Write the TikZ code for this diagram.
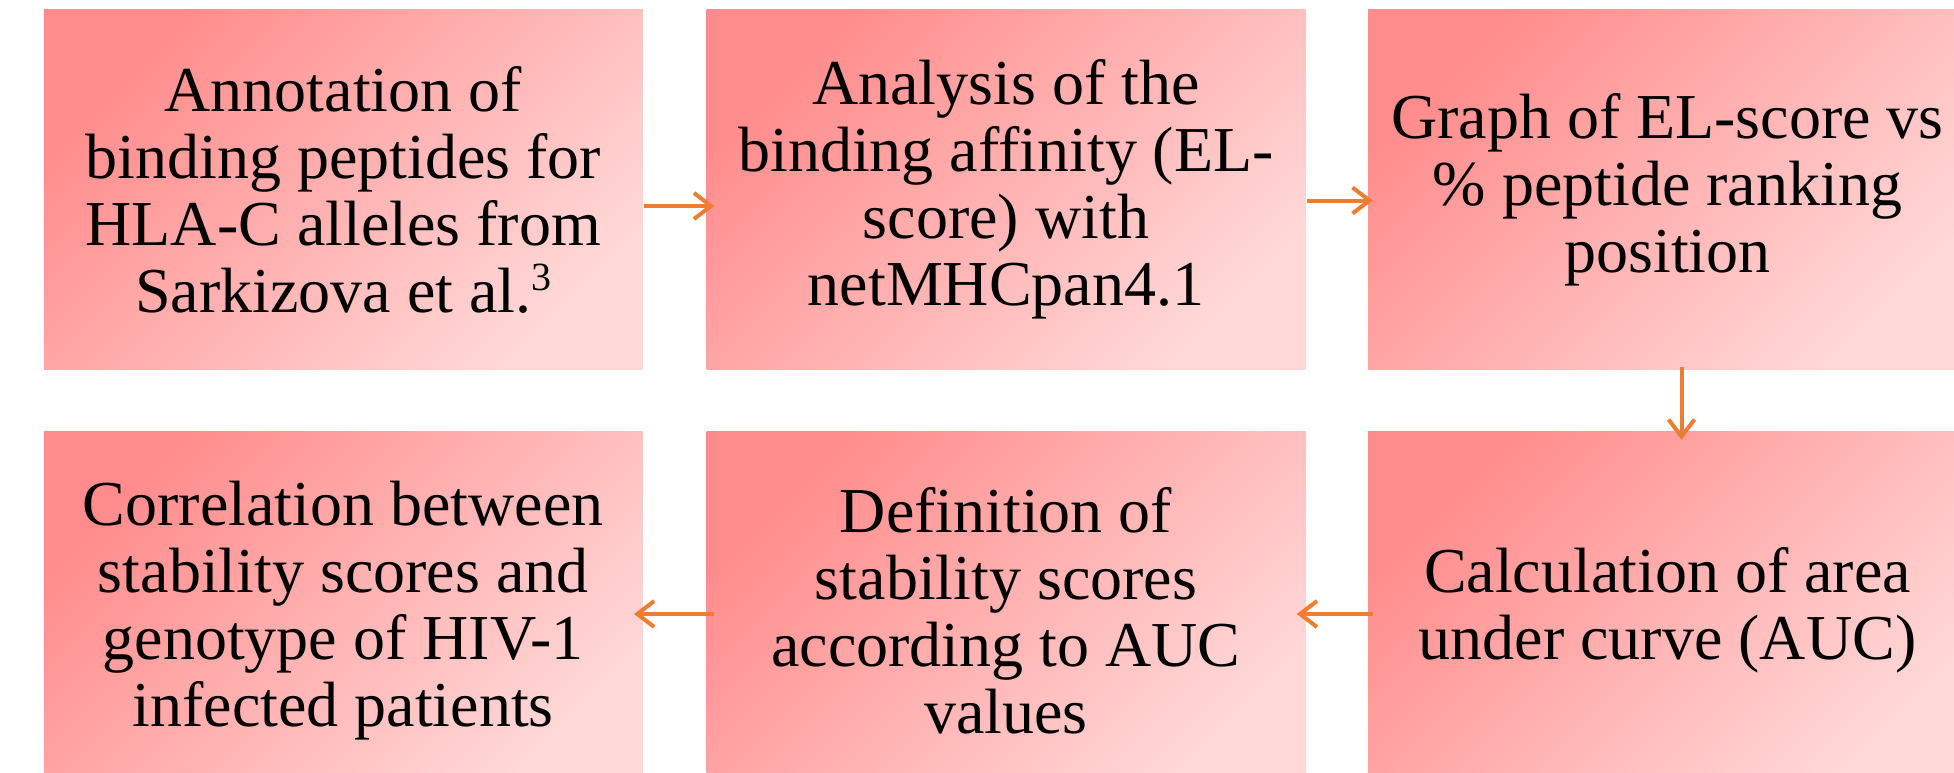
\documentclass[tikz,border=0pt]{standalone}
\usepackage{fontspec}
\setmainfont{Liberation Serif}
\usetikzlibrary{arrows.meta,calc}
\definecolor{boxdark}{RGB}{255,140,140}
\definecolor{boxlight}{RGB}{255,216,216}
\definecolor{arrorange}{RGB}{237,125,49}
\tikzset{
  stepbox/.style={minimum width=599pt, minimum height=359pt, inner sep=0pt,
    top color=boxdark, bottom color=boxlight, shading angle=45,
    align=center, font=\fontsize{64}{67}\selectfont, text=black},
  flowarrow/.style={draw=arrorange, line width=4pt,
    -{Straight Barb[length=17pt,width=26pt,line width=4pt]}}
}
\begin{document}
\begin{tikzpicture}[x=1pt,y=1pt]
\useasboundingbox (0,0) rectangle (1954,-773);
\clip (0,0) rectangle (1954,-773);
\node[stepbox] (b1) at (343.25,-189.5) {Annotation of\\binding peptides for\\HLA-C alleles from\\Sarkizova et al.\raisebox{22pt}{\fontsize{40}{40}\selectfont 3}};
\node[stepbox] (b2) at (1006,-189.5) {Analysis of the\\binding affinity (EL-\\score) with\\netMHCpan4.1};
\node[stepbox] (b3) at (1667.5,-189.5) {Graph of EL-score vs\\\% peptide ranking\\position};
\node[stepbox] (b4) at (343.25,-610.5) {Correlation between\\stability scores and\\genotype of HIV-1\\infected patients};
\node[stepbox] (b5) at (1006,-610.5) {Definition of\\stability scores\\according to AUC\\values};
\node[stepbox] (b6) at (1667.5,-610.5) {Calculation of area\\under curve (AUC)};
\draw[flowarrow] ($(b1.east)+(1,-16.5)$) -- ($(b2.west)+(8,-16.5)$);
\draw[flowarrow] ($(b2.east)+(1,-11)$) -- ($(b3.west)+(5,-11)$);
\draw[flowarrow] ($(b3.south)+(14,2)$) -- ($(b6.north)+(14,-9)$);
\draw[flowarrow] ($(b6.west)+(5,-3.5)$) -- ($(b5.east)+(-9,-3.5)$);
\draw[flowarrow] ($(b5.west)+(8,-3.5)$) -- ($(b4.east)+(-9,-3.5)$);
\end{tikzpicture}
\end{document}
